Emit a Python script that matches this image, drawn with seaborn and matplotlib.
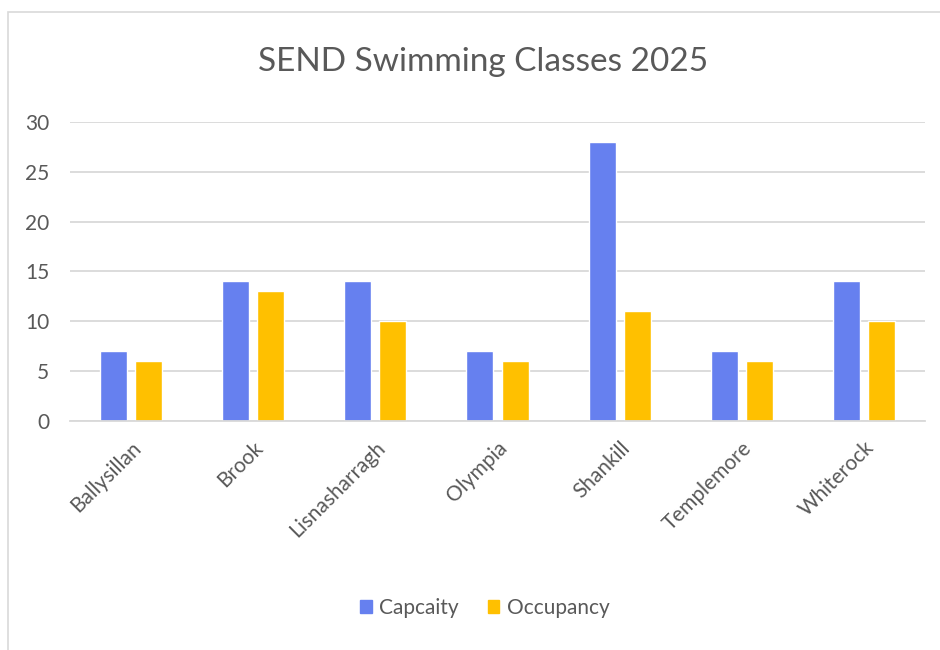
import seaborn as sns
import matplotlib.pyplot as plt
import pandas as pd
from matplotlib.patches import Rectangle

# data
centres = ["Ballysillan", "Brook", "Lisnasharragh", "Olympia", "Shankill", "Templemore", "Whiterock"]
capacity = [7, 14, 14, 7, 28, 7, 14]
occupancy = [6, 13, 10, 6, 11, 6, 10]
series = ["Capcaity", "Occupancy"]
colours = ["#6680EF", "#FFC000"]

df = pd.DataFrame({
    "Centre": centres * 2,
    "Value": capacity + occupancy,
    "Series": [series[0]] * len(centres) + [series[1]] * len(centres),
})

sns.set_style("white")
plt.rcParams['font.family'] = ['Lato', 'DejaVu Sans']
grey = "#595959"

fig = plt.figure(figsize=(9.4, 6.5), dpi=100)
ax = fig.add_axes([70 / 940, 1 - 421 / 650, 855 / 940, 299 / 650])

sns.barplot(data=df, x="Centre", y="Value", hue="Series", palette=colours,
            width=0.574, gap=0.23, ax=ax, legend=False, saturation=1)

ax.set_ylim(0, 30)
ax.set_xlim(-0.5, len(centres) - 0.5)
ax.set_yticks(range(0, 31, 5))
ax.yaxis.grid(True, color="#D9D9D9", linewidth=1.3)
ax.set_axisbelow(True)
for s in ["top", "right", "left"]:
    ax.spines[s].set_visible(False)
ax.spines["bottom"].set_color("#D9D9D9")
ax.spines["bottom"].set_linewidth(1.3)
ax.tick_params(axis="both", length=0, colors=grey, labelsize=15)
ax.tick_params(axis="y", pad=15)
ax.set_xlabel("")
ax.set_ylabel("")
plt.setp(ax.get_xticklabels(), rotation=45, ha="right", rotation_mode="anchor")
ax.tick_params(axis="x", pad=12)

fig.suptitle("SEND Swimming Classes 2025", x=483 / 940, y=1 - 62 / 650, va="center",
             fontsize=24, color=grey)

# legend
handles = [Rectangle((0, 0), 1, 1, color=c) for c in colours]
fig.legend(handles, series, loc="center", bbox_to_anchor=(485 / 940, 1 - 608 / 650),
           ncol=2, frameon=False, fontsize=15, labelcolor=grey,
           handlelength=0.55, handleheight=0.55, handletextpad=0.35, columnspacing=1.4)

# chart border
fig.patches.append(Rectangle((8 / 940, -0.05), 1.1, 1 - 12 / 650 + 0.05, transform=fig.transFigure,
                             fill=False, edgecolor="#D9D9D9", linewidth=1.2))

fig.savefig("out.png", dpi=100)
